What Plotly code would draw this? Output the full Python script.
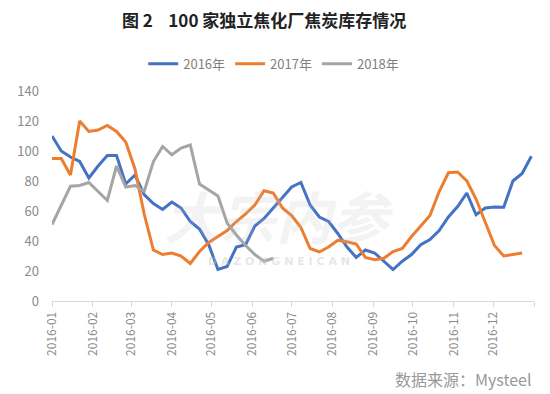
import plotly.graph_objects as go
import pandas as pd

weeks = pd.date_range("2016-01-01", periods=53, freq="7D")

y2016 = [110, 100, 96, 93, 82, 90, 97, 97, 78, 84, 71, 65, 61, 66, 62, 53, 48, 37.5, 21, 23,
         36, 37.5, 50, 55, 62, 69, 76, 79, 64, 56, 53, 45, 36, 29, 34, 32, 26.5, 21, 26.5, 31,
         37.5, 41, 47, 56, 63, 72, 57.5, 62, 62.7, 62.5, 80, 85, 96.5]
y2017 = [95, 95, 84, 120, 113, 114, 117, 113, 106, 88, 58, 34, 31, 32, 30, 25, 33, 39, 43, 47,
         53, 58, 64, 73.5, 72, 62, 57, 49, 35, 32.7, 36, 40.5, 39.5, 38, 29, 27.5, 28.5, 33, 35, 43,
         50, 57, 73, 85.5, 86, 80, 68, 52, 37, 30, 31, 32]
y2018 = [51, 64, 76.5, 77, 79, 73, 67, 90, 76, 77, 73, 93, 103, 97.5, 102, 104, 78, 74, 70, 52,
         44, 37, 31, 26.5, 28.5]

series = [("2016年", y2016, "#4472C4"), ("2017年", y2017, "#ED7D31"), ("2018年", y2018, "#A5A5A5")]

tick_dates = pd.date_range("2016-01-01", periods=13, freq="MS")
tick_labels = [d.strftime("%Y-%m") for d in tick_dates[:12]] + [""]

FONT = "Noto Sans CJK SC"

fig = go.Figure()
for name, vals, color in series:
    fig.add_trace(go.Scatter(x=weeks[:len(vals)], y=vals, mode="lines", name=name,
                             line=dict(color=color, width=3)))

fig.update_layout(
    width=550, height=394,
    margin=dict(l=44, r=24, t=83, b=101),
    paper_bgcolor="white", plot_bgcolor="white",
    font=dict(family=FONT, color="#7f7f7f"),
    showlegend=True,
    legend=dict(orientation="h", x=0.46, xanchor="center", y=1.13, yanchor="middle",
                font=dict(size=13, color="#7f7f7f"), itemwidth=30, tracegroupgap=0,
                bgcolor="rgba(0,0,0,0)"),
)
fig.update_xaxes(
    range=[tick_dates[0], tick_dates[-1]],
    tickmode="array", tickvals=tick_dates, ticktext=tick_labels,
    tickangle=-90, ticks="outside", ticklen=5, tickcolor="#d9d9d9",
    showline=True, linecolor="#d9d9d9", linewidth=1, showgrid=False, zeroline=False,
    tickfont=dict(size=12, color="#8a8a8a"), automargin=False,
)
fig.update_yaxes(
    range=[0, 140], dtick=20, showgrid=False, zeroline=False, showline=False,
    tickfont=dict(size=13, color="#8a8a8a"), ticks="", ticklabelstandoff=12,
    automargin=False,
)

# title
fig.add_annotation(text="<b>图 2    100 家独立焦化厂焦炭库存情况</b>", xref="paper", yref="paper",
                   x=0.44, y=1.34, xanchor="center", yanchor="middle", showarrow=False,
                   font=dict(size=17, color="#222222", family=FONT))

# watermark
fig.add_annotation(text="<b><i>大宗内参</i></b>", xref="paper", yref="paper", x=0.47, y=0.41,
                   showarrow=False, font=dict(size=56, color="rgba(190,190,190,0.18)", family=FONT))
fig.add_annotation(text="<b>D A Z O N G N E I C A N</b>", xref="paper", yref="paper", x=0.47, y=0.148,
                   showarrow=False, font=dict(size=11, color="rgba(200,200,200,0.45)", family="DejaVu Sans"))

fig.add_annotation(text="数据来源：Mysteel", xref="paper", yref="paper", x=1.0, y=-0.37,
                   xanchor="right", yanchor="middle", showarrow=False,
                   font=dict(size=16, color="#999999", family=FONT))

fig.write_html("out.html")
